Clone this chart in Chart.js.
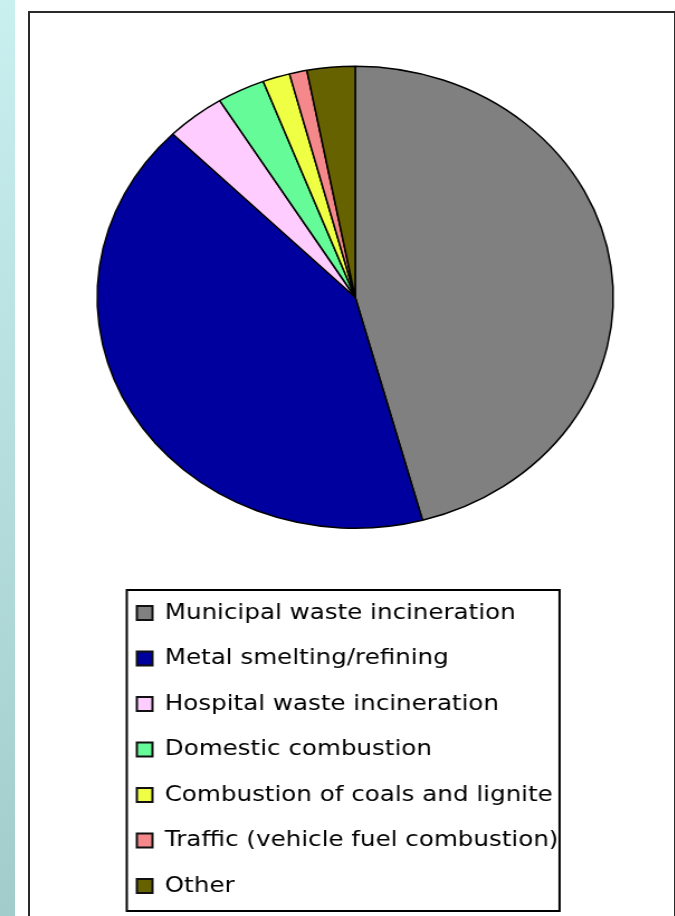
<!DOCTYPE html>
<html>
<head>
    <title>Sources of emissions</title>
    <script src="https://cdn.jsdelivr.net/npm/chart.js"></script>
    <style>
        html, body {
            margin: 0;
            padding: 0;
            width: 675px;
            height: 916px;
            overflow: hidden;
            background: #ffffff;
        }
        #strip {
            position: absolute;
            left: 0;
            top: 0;
            width: 15px;
            height: 916px;
            background: linear-gradient(to bottom, #c9efef, #a2cccc);
        }
        #panel {
            position: absolute;
            left: 28px;
            top: 11px;
            width: 644px;
            height: 1000px;
            border: 2px solid #2a2a2a;
            background: #ffffff;
        }
        /* the chart is drawn round and widened a bit, like the original sheet */
        #chartContainer {
            position: absolute;
            left: 0;
            top: 0;
            transform: scaleX(1.117);
            transform-origin: 0 0;
        }
    </style>
</head>
<body>

    <div id="strip"></div>
    <div id="panel"></div>
    <div id="chartContainer">
        <canvas id="myChart" width="600" height="940"></canvas>
    </div>

    <script>
      const sources = [
          'Municipal waste incineration',
          'Metal smelting/refining',
          'Hospital waste incineration',
          'Domestic combustion',
          'Combustion of coals and lignite',
          'Traffic (vehicle fuel combustion)',
          'Other'
      ];
      const shares = [45.8, 41.7, 3.7, 3.0, 1.7, 1.1, 3.0];
      const sliceColors = ['#808080', '#00009f', '#ffccff', '#66fb99', '#eeff44', '#f4888a', '#676200'];

      // box round the legend, built from the legend's own hit boxes
      const legendFrame = {
          id: 'legendFrame',
          afterDraw(chart) {
              const boxes = chart.legend.legendHitBoxes;
              if (!boxes || !boxes.length) return;
              let left = Infinity, right = -Infinity, top = Infinity, bottom = -Infinity;
              boxes.forEach(b => {
                  left = Math.min(left, b.left);
                  right = Math.max(right, b.left + b.width);
                  top = Math.min(top, b.top);
                  bottom = Math.max(bottom, b.top + b.height);
              });
              const ctx = chart.ctx;
              ctx.save();
              ctx.strokeStyle = '#000';
              ctx.lineWidth = 2;
              ctx.strokeRect(left - 9, top - 12, right - left + 10, bottom - top + 26);
              ctx.restore();
          }
      };

      const baseLabels = (Chart.overrides.pie || Chart.overrides.doughnut).plugins.legend.labels.generateLabels;

      const config = {
          type: 'pie',
          data: {
              labels: sources,
              datasets: [{
                  data: shares,
                  backgroundColor: sliceColors,
                  borderColor: '#000',
                  borderWidth: 1.5,
                  radius: 231,
                  clip: false
              }]
          },
          options: {
              responsive: false,
              animation: false,
              devicePixelRatio: 1,
              layout: {
                  padding: { left: 99, right: 63, top: 16, bottom: 33 }
              },
              plugins: {
                  tooltip: { enabled: false },
                  legend: {
                      position: 'bottom',
                      align: 'start',
                      labels: {
                          color: '#000',
                          font: { family: 'DejaVu Sans', size: 22 },
                          boxWidth: 14,
                          boxHeight: 14,
                          padding: 23.5,
                          generateLabels(chart) {
                              return baseLabels(chart).map(item => {
                                  item.lineWidth = 2;
                                  item.strokeStyle = '#111';
                                  return item;
                              });
                          }
                      }
                  }
              }
          },
          plugins: [legendFrame]
      };

      const myChart = new Chart(document.getElementById('myChart'), config);
  </script>

</body>
</html>
